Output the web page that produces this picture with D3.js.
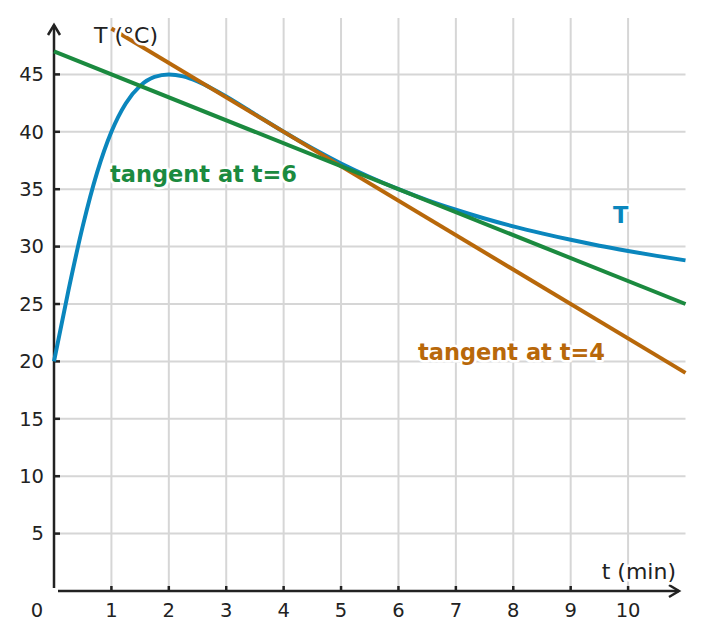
<!DOCTYPE html>
<html lang="en">
<head>
  <meta charset="UTF-8" />
  <title>Temperature and tangents</title>
  <script src="https://d3js.org/d3.v7.min.js"></script>
  <style>
    body { margin: 0; background: #fff; font-family: "DejaVu Sans", sans-serif; }
    .grid line { stroke: #d6d6d6; stroke-width: 2; }
    .tick-label { font-size: 19.5px; fill: #222; }
    .axis-title { font-size: 22px; fill: #222; }
    .curve-label { font-size: 22.5px; font-weight: bold; }
    .halo { stroke: #fff; stroke-width: 5px; stroke-linejoin: round; paint-order: stroke; }
  </style>
</head>
<body>
  <svg width="703" height="640"></svg>

  <script>
    // temperature readings T (°C) at time t (min)
    const tValues = [0, 0.25, 0.5, 0.75, 1, 1.25, 1.5, 1.75, 2, 2.25, 2.5, 2.75, 3, 3.5, 4, 4.5,
                     5, 5.5, 6, 6.5, 7, 7.5, 8, 8.5, 9, 9.5, 10, 10.5, 11];
    const tempValues = [20, 26.15, 31.76, 36.44, 40, 42.47, 44, 44.78, 45, 44.83, 44.39, 43.78, 43.08, 41.54, 40, 38.56,
                        37.24, 36.06, 35, 34.05, 33.21, 32.45, 31.76, 31.15, 30.59, 30.08, 29.62, 29.19, 28.8];

    // tangent lines, endpoints
    const tangent4 = [[1, 49], [11, 19]];
    const tangent6 = [[0, 47], [11, 25]];

    const xTicks = [1, 2, 3, 4, 5, 6, 7, 8, 9, 10];
    const yTicks = [5, 10, 15, 20, 25, 30, 35, 40, 45];

    const colors = { T: "#0a86bd", t4: "#b8680a", t6: "#1b8a3f" };

    const svg = d3.select("svg");

    const x = d3.scaleLinear().domain([0, 11]).range([54, 685.5]);
    const y = d3.scaleLinear().domain([0, 50]).range([591, 17]);

    // grid
    const grid = svg.append("g").attr("class", "grid");
    grid.selectAll("line.v")
      .data(xTicks)
      .join("line")
        .attr("class", "v")
        .attr("x1", d => x(d)).attr("x2", d => x(d))
        .attr("y1", y(0)).attr("y2", 18);
    grid.selectAll("line.h")
      .data(yTicks)
      .join("line")
        .attr("class", "h")
        .attr("x1", x(0)).attr("x2", 685.5)
        .attr("y1", d => y(d)).attr("y2", d => y(d));

    // axes
    const axisColor = "#222";
    svg.append("line")
      .attr("x1", x(0)).attr("x2", x(0))
      .attr("y1", y(0) - 3).attr("y2", 25)
      .attr("stroke", axisColor).attr("stroke-width", 2.5);
    svg.append("path")
      .attr("d", `M${x(0) - 6},${35} L${x(0)},${25} L${x(0) + 6},${35}`)
      .attr("fill", "none").attr("stroke", axisColor).attr("stroke-width", 2.5);
    svg.append("line")
      .attr("x1", x(0) + 4).attr("x2", 679)
      .attr("y1", y(0)).attr("y2", y(0))
      .attr("stroke", axisColor).attr("stroke-width", 2.5);
    svg.append("path")
      .attr("d", `M${669},${y(0) - 6} L${679},${y(0)} L${669},${y(0) + 6}`)
      .attr("fill", "none").attr("stroke", axisColor).attr("stroke-width", 2.5);

    // ticks
    svg.selectAll("line.xt")
      .data(xTicks)
      .join("line")
        .attr("x1", d => x(d)).attr("x2", d => x(d))
        .attr("y1", y(0)).attr("y2", y(0) - 5)
        .attr("stroke", axisColor).attr("stroke-width", 2.5);
    svg.selectAll("line.yt")
      .data(yTicks)
      .join("line")
        .attr("x1", x(0)).attr("x2", x(0) + 6)
        .attr("y1", d => y(d)).attr("y2", d => y(d))
        .attr("stroke", axisColor).attr("stroke-width", 2.5);

    svg.selectAll("text.xl")
      .data(xTicks)
      .join("text")
        .attr("class", "tick-label")
        .attr("x", d => x(d))
        .attr("y", 617)
        .attr("text-anchor", "middle")
        .text(d => d);
    svg.selectAll("text.yl")
      .data(yTicks)
      .join("text")
        .attr("class", "tick-label")
        .attr("x", 44)
        .attr("y", d => y(d))
        .attr("dy", "0.35em")
        .attr("text-anchor", "end")
        .text(d => d);
    svg.append("text")
      .attr("class", "tick-label")
      .attr("x", 37).attr("y", 617)
      .attr("text-anchor", "middle")
      .text("0");

    // curves
    const line = d3.line()
      .x(d => x(d[0]))
      .y(d => y(d[1]));

    const tempPoints = tValues.map((t, i) => [t, tempValues[i]]);

    svg.append("path")
      .datum(tempPoints)
      .attr("d", line.curve(d3.curveMonotoneX))
      .attr("fill", "none")
      .attr("stroke", colors.T)
      .attr("stroke-width", 4);

    line.curve(d3.curveLinear);
    svg.append("path")
      .datum(tangent4)
      .attr("d", line)
      .attr("fill", "none")
      .attr("stroke", colors.t4)
      .attr("stroke-width", 4);
    svg.append("path")
      .datum(tangent6)
      .attr("d", line)
      .attr("fill", "none")
      .attr("stroke", colors.t6)
      .attr("stroke-width", 4);

    // labels
    svg.append("text")
      .attr("class", "axis-title halo")
      .attr("x", 94).attr("y", 43)
      .text("T (°C)");
    svg.append("text")
      .attr("class", "axis-title halo")
      .attr("x", 676).attr("y", 579)
      .attr("text-anchor", "end")
      .text("t (min)");

    svg.append("text")
      .attr("class", "curve-label halo")
      .attr("x", 110).attr("y", 182)
      .attr("fill", colors.t6)
      .text("tangent at t=6");
    svg.append("text")
      .attr("class", "curve-label halo")
      .attr("x", 418).attr("y", 360)
      .attr("fill", colors.t4)
      .text("tangent at t=4");
    svg.append("text")
      .attr("class", "curve-label halo")
      .attr("x", 613).attr("y", 223)
      .attr("fill", colors.T)
      .text("T");
  </script>
</body>
</html>
